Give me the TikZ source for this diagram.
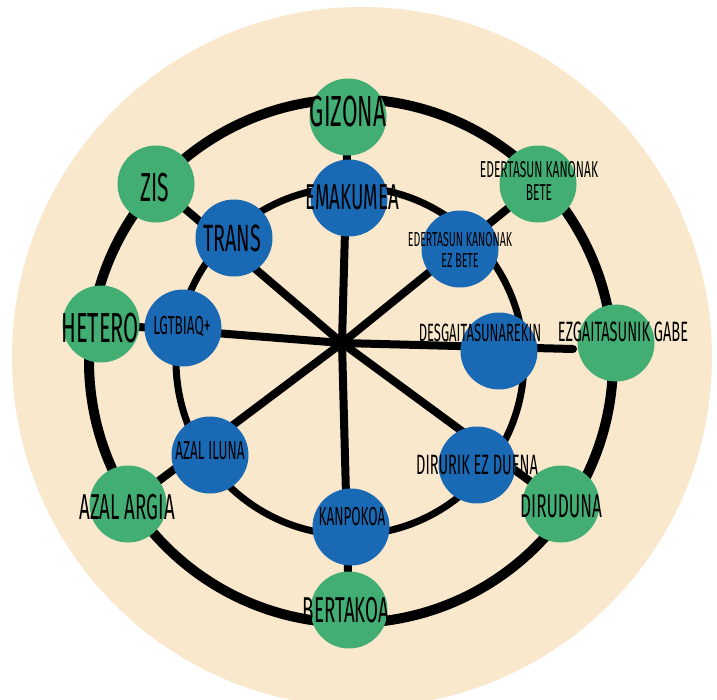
\documentclass[tikz,border=0pt]{standalone}
\usepackage{fontspec}
\newfontfamily\handfont[FakeStretch=0.52]{Fira Sans}
\definecolor{sandbg}{RGB}{249, 232, 203}
\definecolor{dotgreen}{RGB}{66, 174, 115}
\definecolor{dotblue}{RGB}{25, 105, 181}
\pgfdeclarelayer{back}
\pgfdeclarelayer{lines}
\pgfsetlayers{back, lines, main}

\begin{document}
\begin{tikzpicture}[
  x=1pt, y=-1pt,
  gdot/.style={circle, fill=dotgreen, minimum size=77pt, inner sep=0pt},
  bdot/.style={circle, fill=dotblue, minimum size=77pt, inner sep=0pt},
  lbl/.style={font=\handfont\fontsize{#1}{#1}\selectfont, inner sep=0pt, align=center},
  spoke/.style={line width=8pt, line cap=round}
]
  \useasboundingbox (0, 0) rectangle (717, 699);
  \clip (0, 0) rectangle (717, 699);

  % outer ring of categories
  \node[gdot] (gizona) at (348, 117) {};
  \node[gdot] (bete) at (538, 184) {};
  \node[gdot] (gabe) at (616, 343) {};
  \node[gdot] (diruduna) at (561, 504) {};
  \node[gdot] (bertakoa) at (349, 610) {};
  \node[gdot] (argia) at (128, 504) {};
  \node[gdot] (hetero) at (101, 324) {};
  \node[gdot] (zis) at (156, 184) {};

  % inner ring of categories
  \node[bdot] (emakumea) at (349, 198) {};
  \node[bdot] (ezbete) at (460, 249) {};
  \node[bdot] (desgai) at (499, 351) {};
  \node[bdot] (dirurik) at (477, 465) {};
  \node[bdot] (kanpokoa) at (351, 527) {};
  \node[bdot] (iluna) at (210, 455) {};
  \node[bdot] (lgtbiaq) at (183, 328) {};
  \node[bdot] (trans) at (234, 238) {};

  \node[circle, fill=black, minimum size=14pt, inner sep=0pt] (hub) at (342, 343) {};
  \coordinate (gabeend) at (573, 349);

  \begin{pgfonlayer}{back}
    \fill[sandbg] (362, 357) circle[radius=350pt];
  \end{pgfonlayer}
  \begin{pgfonlayer}{lines}
    \draw[line width=10pt] (351, 361) circle[radius=262pt];
    \draw[line width=7pt] (350, 361) circle[radius=174pt];
    \draw[spoke] (hub) -- (gizona);
    \draw[spoke] (hub) -- (bete);
    \draw[spoke] (hub) -- (gabeend);
    \draw[spoke] (hub) -- (diruduna);
    \draw[spoke] (hub) -- (bertakoa);
    \draw[spoke] (hub) -- (argia);
    \draw[spoke] (hub) -- (hetero);
    \draw[spoke] (hub) -- (zis);
  \end{pgfonlayer}

  \node[lbl=43.5] (gizona-t) at (348, 112) {GIZONA};
  \node[lbl=23] (bete-t) at (539, 181) {EDERTASUN KANONAK\\[0pt]BETE};
  \node[lbl=28] (gabe-t) at (623, 332) {EZGAITASUNIK GABE};
  \node[lbl=33] (diruduna-t) at (561, 506) {DIRUDUNA};
  \node[lbl=36] (bertakoa-t) at (346, 610) {BERTAKOA};
  \node[lbl=36] (argia-t) at (127, 507) {AZAL ARGIA};
  \node[lbl=42] (hetero-t) at (100, 328) {HETERO};
  \node[lbl=40.5] (zis-t) at (155, 188) {ZIS};

  \node[lbl=36] (emakumea-t) at (352, 197) {EMAKUMEA};
  \node[lbl=20.3] (ezbete-t) at (460, 250) {EDERTASUN KANONAK\\[1pt]EZ BETE};
  \node[lbl=25] (desgai-t) at (480, 333) {DESGAITASUNAREKIN};
  \node[lbl=28] (dirurik-t) at (477, 465) {DIRURIK EZ DUENA};
  \node[lbl=26] (kanpokoa-t) at (352, 517) {KANPOKOA};
  \node[lbl=26] (iluna-t) at (210, 451) {AZAL ILUNA};
  \node[lbl=26] (lgtbiaq-t) at (182, 327) {LGTBIAQ+};
  \node[lbl=38] (trans-t) at (232, 238) {TRANS};
\end{tikzpicture}
\end{document}
